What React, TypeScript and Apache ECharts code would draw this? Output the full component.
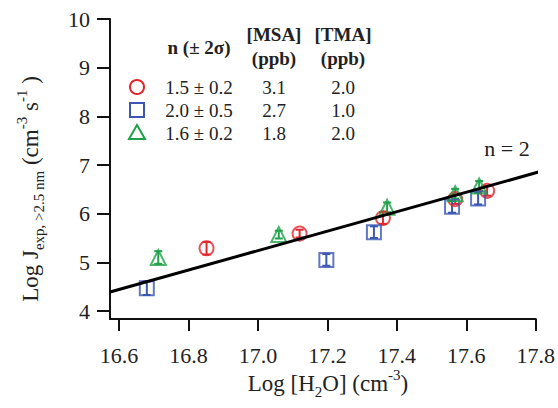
import React, { useEffect, useRef } from "react";
import * as echarts from "echarts";

// ---- data ----
const redX = [16.852, 17.12, 17.36, 17.568, 17.66];
const redY = [5.29, 5.59, 5.91, 6.3, 6.47];
const redErr = [0.13, 0.08, 0.12, 0.1, 0.1];

const blueX = [16.68, 17.197, 17.334, 17.559, 17.634];
const blueY = [4.47, 5.05, 5.62, 6.14, 6.31];
const blueErr = [0.14, 0.12, 0.12, 0.12, 0.12];

const greenX = [16.713, 17.06, 17.372, 17.568, 17.637];
const greenY = [5.1, 5.57, 6.13, 6.41, 6.57];
const greenErr = [0.13, 0.08, 0.1, 0.1, 0.1];

const fitX = [16.574, 17.81];
const fitY = [4.39, 6.86];

const xTicks = [16.6, 16.8, 17.0, 17.2, 17.4, 17.6, 17.8];
const yTicks = [4, 5, 6, 7, 8, 9, 10];

const legendN = ["1.5 \u00b1 0.2", "2.0 \u00b1 0.5", "1.6 \u00b1 0.2"];
const legendMSA = ["3.1", "2.7", "1.8"];
const legendTMA = ["2.0", "1.0", "2.0"];

const RED = "#e2262c";
const BLUE = "#3b56b3";
const GREEN = "#1fa149";
const FONT = "Liberation Serif";

const zip = (xs: number[], ys: number[]) => xs.map((x, i) => [x, ys[i]]);
const zip3 = (xs: number[], ys: number[], es: number[]) => xs.map((x, i) => [x, ys[i], es[i]]);

function errSeries(data: number[][], color: string) {
  return {
    type: "custom",
    data,
    encode: { x: 0, y: 1 },
    z: 3,
    renderItem: (params: any, api: any) => {
      const x = api.value(0), y = api.value(1), e = api.value(2);
      const t = api.coord([x, y + e]);
      const b = api.coord([x, y - e]);
      const w = 4;
      const st = { stroke: color, lineWidth: 2 };
      return {
        type: "group",
        children: [
          { type: "line", shape: { x1: t[0], y1: t[1], x2: b[0], y2: b[1] }, style: st },
          { type: "line", shape: { x1: t[0] - w, y1: t[1], x2: t[0] + w, y2: t[1] }, style: st },
          { type: "line", shape: { x1: b[0] - w, y1: b[1], x2: b[0] + w, y2: b[1] }, style: st },
        ],
      };
    },
  };
}

function scatter(data: number[][], symbol: string, color: string, size: number) {
  return {
    type: "scatter",
    data,
    symbol,
    symbolSize: size,
    z: 4,
    itemStyle: { color: "rgba(0,0,0,0)", borderColor: color, borderWidth: 2 },
  };
}

export default function App() {
  const ref = useRef<HTMLDivElement>(null);
  useEffect(() => {
    const chart = echarts.init(ref.current!, null, { renderer: "svg" });
    const rowY = [87, 110, 133];
    const legendColors = [RED, BLUE, GREEN];
    const graphics: any[] = [];
    // table headers
    const hdr = { fill: "#222", font: `bold 19px "${FONT}"`, align: "center", verticalAlign: "middle" };
    graphics.push({ type: "text", x: 199, y: 47, style: { ...hdr, text: "n (\u00b1 2\u03c3)" } });
    graphics.push({ type: "text", x: 274, y: 34, style: { ...hdr, text: "[MSA]" } });
    graphics.push({ type: "text", x: 274, y: 58, style: { ...hdr, text: "(ppb)" } });
    graphics.push({ type: "text", x: 343, y: 34, style: { ...hdr, text: "[TMA]" } });
    graphics.push({ type: "text", x: 343, y: 58, style: { ...hdr, text: "(ppb)" } });
    const cell = { fill: "#222", font: `19px "${FONT}"`, align: "center", verticalAlign: "middle" };
    rowY.forEach((y, i) => {
      graphics.push({ type: "text", x: 199, y, style: { ...cell, text: legendN[i] } });
      graphics.push({ type: "text", x: 274, y, style: { ...cell, text: legendMSA[i] } });
      graphics.push({ type: "text", x: 343, y, style: { ...cell, text: legendTMA[i] } });
    });
    const ms = { fill: "none", lineWidth: 2 };
    graphics.push({ type: "circle", shape: { cx: 137, cy: rowY[0], r: 7 }, style: { ...ms, stroke: legendColors[0] } });
    graphics.push({ type: "rect", shape: { x: 130, y: rowY[1] - 7, width: 14, height: 14 }, style: { ...ms, stroke: legendColors[1] } });
    graphics.push({
      type: "polygon",
      shape: { points: [[137, rowY[2] - 8], [145, rowY[2] + 6], [129, rowY[2] + 6]] },
      style: { ...ms, stroke: legendColors[2] },
    });
    graphics.push({
      type: "text", x: 507, y: 148,
      style: { text: "n = 2", fill: "#222", font: `22px "${FONT}"`, align: "center", verticalAlign: "middle" },
    });
    const richBase = {
      m: { fontSize: 23, fontFamily: FONT, lineHeight: 32, verticalAlign: "middle", color: "#222" },
      sub: { fontSize: 15, fontFamily: FONT, lineHeight: 15, verticalAlign: "bottom", color: "#222" },
      sup: { fontSize: 15, fontFamily: FONT, lineHeight: 15, verticalAlign: "top", color: "#222" },
    };
    graphics.push({
      type: "text", x: 328, y: 383,
      style: {
        text: "{m|Log [H}{sub|2}{m|O] (cm}{sup|-3}{m|)}",
        rich: richBase, align: "center", verticalAlign: "middle", fill: "#222",
      },
    });
    graphics.push({
      type: "text", x: 30, y: 189, rotation: Math.PI / 2,
      style: {
        text: "{m|Log J}{sub|exp, >2.5 nm}{m| (cm}{sup|-3}{m| s}{sup|-1}{m| )}",
        rich: richBase, align: "center", verticalAlign: "middle", fill: "#222",
      },
    });

    const axisCommon = {
      axisLine: { show: true, lineStyle: { color: "#111", width: 2 } },
      splitLine: { show: false },
    };

    chart.setOption({
      animation: false,
      grid: { left: 110, top: 19, width: 426, height: 300 },
      xAxis: {
        type: "value",
        min: 16.574,
        max: 17.8,
        ...axisCommon,
        axisTick: { show: true, customValues: xTicks, length: 12, lineStyle: { color: "#111", width: 2 } },
        axisLabel: {
          customValues: xTicks,
          fontSize: 22,
          fontFamily: FONT,
          color: "#222",
          margin: 25,
          formatter: (v: number) => v.toFixed(1),
        },
      },
      yAxis: {
        type: "value",
        min: 3.836,
        max: 10,
        ...axisCommon,
        axisTick: { show: true, customValues: yTicks, length: 13, lineStyle: { color: "#111", width: 2 } },
        axisLabel: {
          customValues: yTicks,
          fontSize: 22,
          fontFamily: FONT,
          color: "#222",
          margin: 20,
          formatter: (v: number) => String(Math.round(v)),
        },
      },
      graphic: graphics,
      series: [
        {
          type: "line",
          data: zip(fitX, fitY),
          symbol: "none",
          clip: false,
          z: 5,
          lineStyle: { color: "#000", width: 3 },
        },
        errSeries(zip3(redX, redY, redErr), RED),
        errSeries(zip3(blueX, blueY, blueErr), BLUE),
        errSeries(zip3(greenX, greenY, greenErr), GREEN),
        scatter(zip(redX, redY), "circle", RED, 14),
        scatter(zip(blueX, blueY), "rect", BLUE, 14),
        scatter(zip(greenX, greenY), "triangle", GREEN, 15),
      ],
    });
    return () => chart.dispose();
  }, []);
  return (
    <div
      ref={ref}
      style={{ position: "fixed", left: 0, top: 0, width: 558, height: 408, background: "#fff" }}
    />
  );
}
